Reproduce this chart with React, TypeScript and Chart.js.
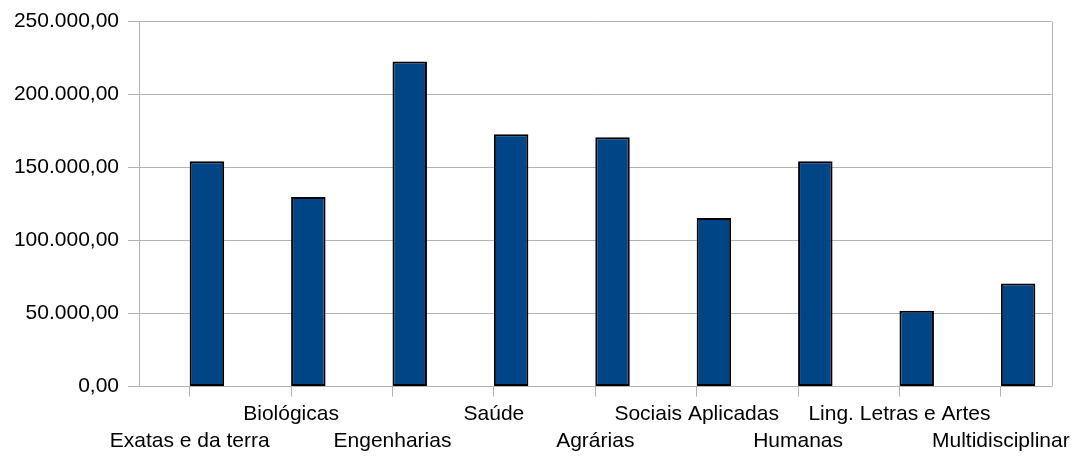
import React, { useEffect, useRef } from "react";
import { Chart, registerables } from "chart.js";

Chart.register(...registerables);

// Knowledge areas (alternating labels go on two rows)
const categories: string[] = [
  "Exatas e da terra",
  "Biológicas",
  "Engenharias",
  "Saúde",
  "Agrárias",
  "Sociais Aplicadas",
  "Humanas",
  "Ling. Letras e Artes",
  "Multidisciplinar",
];

// Values per area
const values: number[] = [
  154400, 129800, 222700, 172800, 170800, 115400, 154400, 51900, 70600,
];

// Empty companion series that holds the left half of each category slot
const emptySeries: (number | null)[] = categories.map(() => null);

// Y axis range and step
const yMin = 0;
const yMax = 250000;
const yStep = 50000;

const FONT = "'Liberation Sans', Arial, sans-serif";
const GRID = "#b3b3b3";

function formatBR(v: number): string {
  const fixed = Math.abs(v).toFixed(2);
  const [intPart, dec] = fixed.split(".");
  const withDots = intPart.replace(/\B(?=(\d{3})+(?!\d))/g, ".");
  return (v < 0 ? "-" : "") + withDots + "," + dec;
}

const rightBorder = {
  id: "rightBorder",
  afterDraw(chart: any) {
    const { ctx, chartArea } = chart;
    ctx.save();
    ctx.strokeStyle = GRID;
    ctx.lineWidth = 1;
    ctx.beginPath();
    const x = Math.round(chartArea.right) + 0.5;
    ctx.moveTo(x, chartArea.top);
    ctx.lineTo(x, chartArea.bottom);
    ctx.stroke();
    ctx.restore();
  },
};

export default function App() {
  const canvasRef = useRef<HTMLCanvasElement | null>(null);

  useEffect(() => {
    if (!canvasRef.current) return;
    const chart = new Chart(canvasRef.current, {
      type: "bar",
      data: {
        labels: categories.map((c, i) => (i % 2 === 0 ? ["", c] : [c])),
        datasets: [
          {
            label: "",
            data: emptySeries,
            backgroundColor: "rgba(0,0,0,0)",
          },
          {
            label: "Valor",
            data: values,
            backgroundColor: "#004586",
            borderColor: "#000000",
            borderWidth: 2,
            borderSkipped: false,
          },
        ],
      },
      options: {
        animation: false,
        responsive: true,
        maintainAspectRatio: false,
        layout: { padding: { top: 20, right: 23, left: 0, bottom: 0 } },
        datasets: {
          bar: { categoryPercentage: 0.68, barPercentage: 1 },
        },
        plugins: {
          legend: { display: false },
          tooltip: { enabled: false },
        },
        scales: {
          x: {
            grid: {
              display: true,
              drawOnChartArea: false,
              drawTicks: true,
              tickLength: 10,
              offset: false,
              color: GRID,
            },
            border: { display: true, color: GRID },
            ticks: {
              autoSkip: false,
              maxRotation: 0,
              minRotation: 0,
              padding: 4,
              color: "#000000",
              font: { family: FONT, size: 21, lineHeight: 27 / 21 },
            },
            afterFit(scale: any) {
              scale.height = 72.5;
            },
          },
          y: {
            min: yMin,
            max: yMax,
            grid: {
              color: GRID,
              drawTicks: true,
              tickLength: 11,
            },
            border: { display: true, color: GRID },
            ticks: {
              stepSize: yStep,
              padding: 9,
              color: "#000000",
              font: { family: FONT, size: 21 },
              callback: (v: any) => formatBR(Number(v)),
            },
            afterFit(scale: any) {
              scale.width = 139;
            },
          },
        },
      },
      plugins: [rightBorder],
    });
    return () => chart.destroy();
  }, []);

  return (
    <div
      style={{
        position: "fixed",
        left: 0,
        top: 0,
        width: 1075,
        height: 459,
        background: "#ffffff",
      }}
    >
      <canvas ref={canvasRef} />
    </div>
  );
}
